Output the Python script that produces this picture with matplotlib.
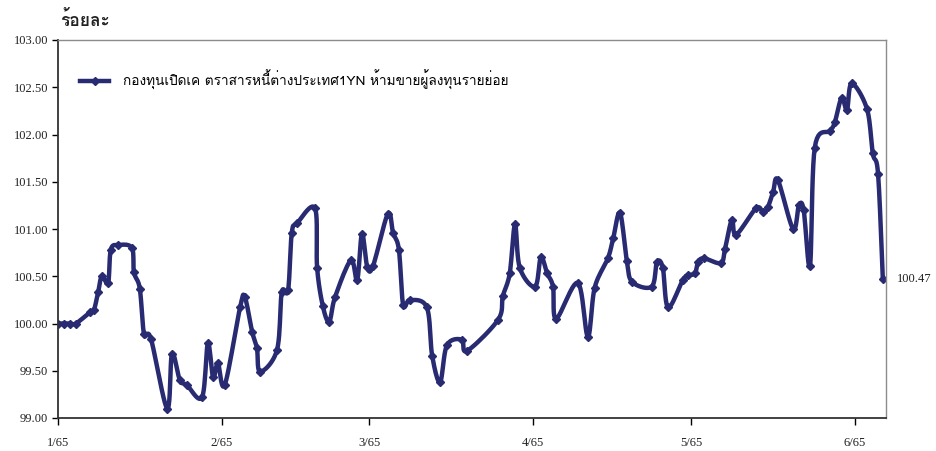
import numpy as np
import matplotlib
matplotlib.use("Agg")
import matplotlib.pyplot as plt
from matplotlib import font_manager
from matplotlib.ft2font import FT2Font

# days counted from 1 Jan 2565 (x position), fund index in percent
day = [0.0, 1.1, 2.3, 3.4, 6.1, 6.8, 7.6, 8.3, 9.5, 10.0,
       11.4, 14.0, 14.4, 15.5, 16.3, 17.6, 20.7, 21.6, 23.1, 24.4,
       27.3, 28.4, 29.4, 30.3, 31.6, 34.5, 35.4, 36.8, 37.7, 38.3,
       41.5, 42.4, 43.6, 44.3, 45.3, 48.7, 49.1, 50.2, 51.4, 52.5,
       55.5, 56.7, 57.6, 58.6, 59.7, 62.5, 63.5, 64.6, 65.4, 66.7,
       69.9, 70.9, 72.4, 73.7, 76.5, 77.5, 83.4, 84.3, 85.6, 86.6,
       87.5, 90.4, 91.5, 92.7, 93.8, 94.4, 98.5, 100.4, 101.7, 104.2,
       105.2, 106.5, 107.8, 108.8, 112.5, 113.5, 114.6, 115.6, 118.4, 119.4,
       120.7, 121.3, 122.4, 125.6, 126.4, 127.7, 128.5, 132.3, 133.6, 134.5,
       135.5, 136.4, 139.3, 140.4, 141.3, 142.5, 143.4, 146.3, 147.2, 148.5,
       149.5, 150.4, 153.3, 154.4, 155.4, 156.3]
value = [100.00, 100.00, 100.00, 100.00, 100.12, 100.14, 100.33, 100.50, 100.43, 100.78,
         100.83, 100.80, 100.54, 100.37, 99.89, 99.84, 99.10, 99.68, 99.40, 99.35,
         99.22, 99.79, 99.43, 99.58, 99.35, 100.17, 100.28, 99.91, 99.74, 99.49,
         99.72, 100.33, 100.35, 100.96, 101.06, 101.22, 100.59, 100.18, 100.02, 100.28,
         100.67, 100.46, 100.95, 100.60, 100.61, 101.16, 100.96, 100.78, 100.20, 100.25,
         100.17, 99.66, 99.38, 99.77, 99.83, 99.71, 100.04, 100.29, 100.53, 101.05,
         100.59, 100.39, 100.70, 100.53, 100.39, 100.05, 100.43, 99.86, 100.38, 100.69,
         100.90, 101.17, 100.66, 100.44, 100.39, 100.65, 100.59, 100.17, 100.46, 100.51,
         100.53, 100.65, 100.69, 100.64, 100.79, 101.10, 100.94, 101.22, 101.18, 101.23,
         101.39, 101.52, 101.00, 101.25, 101.20, 100.61, 101.86, 102.04, 102.13, 102.39,
         102.26, 102.54, 102.27, 101.80, 101.58, 100.47]

month_days = [0, 31, 59, 90, 120, 151]
month_labels = ["1/65", "2/65", "3/65", "4/65", "5/65", "6/65"]
series_name = "กองทุนเปิดเค ตราสารหนี้ต่างประเทศ1YN ห้ามขายผู้ลงทุนรายย่อย"
y_title = "ร้อยละ"


def find_thai_font():
    for f in font_manager.fontManager.ttflist:
        try:
            if 0x0E01 in FT2Font(f.fname).get_charmap():
                return f.name
        except Exception:
            pass
    return "DejaVu Sans"


thai = find_thai_font()
plt.rcParams['font.family'] = [thai, 'DejaVu Sans']


def smooth(x, y, n=12):
    # Bezier smoothing through the points, like a spreadsheet "smoothed line"
    x = np.asarray(x)
    y = np.asarray(y)
    px = np.concatenate([[x[0]], x, [x[-1]]])
    py = np.concatenate([[y[0]], y, [y[-1]]])
    t = np.linspace(0, 1, n)
    xs, ys = [], []
    for i in range(1, len(px) - 2):
        x0, x1, x2, x3 = px[i - 1:i + 3]
        y0, y1, y2, y3 = py[i - 1:i + 3]
        cx1, cy1 = x1 + (x2 - x0) / 6, y1 + (y2 - y0) / 6
        cx2, cy2 = x2 - (x3 - x1) / 6, y2 - (y3 - y1) / 6
        b0, b1, b2, b3 = (1 - t) ** 3, 3 * (1 - t) ** 2 * t, 3 * (1 - t) * t ** 2, t ** 3
        xs.append(b0 * x1 + b1 * cx1 + b2 * cx2 + b3 * x2)
        ys.append(b0 * y1 + b1 * cy1 + b2 * cy2 + b3 * y2)
    return np.concatenate(xs), np.concatenate(ys)


navy = "#282a72"
fig = plt.figure(figsize=(9.37, 4.51), dpi=100)
ax = fig.add_axes([58 / 937, 1 - 418 / 451, 828 / 937, 378 / 451])

sx, sy = smooth(day, value)
ax.plot(sx, sy, color=navy, linewidth=3.2, solid_capstyle='round')
ax.plot(day, value, linestyle='none', marker='D', markersize=4, color=navy)
# legend handle: line with a marker
ax.plot([], [], color=navy, linewidth=3.2, marker='D', markersize=4, label=series_name)

ax.set_xlim(0, 156.9)
ax.set_ylim(99, 103)
ax.set_yticks(np.arange(99, 103.01, 0.5))
ax.set_yticklabels([f"{v:.2f}" for v in np.arange(99, 103.01, 0.5)],
                   fontfamily="Liberation Serif", fontsize=9, color="#222222")
ax.set_xticks(month_days)
ax.set_xticklabels(month_labels, fontfamily="Liberation Serif", fontsize=9, color="#222222")
ax.tick_params(axis='y', direction='out', length=4, width=1, pad=3)
ax.tick_params(axis='x', direction='out', length=5, width=1, pad=9)

for s in ['left', 'bottom']:
    ax.spines[s].set_color("#333333")
    ax.spines[s].set_linewidth(1.3)
for s in ['top', 'right']:
    ax.spines[s].set_color("#8c8c8c")
    ax.spines[s].set_linewidth(1.0)

ax.text(day[-1] + 2.7, value[-1], f"{value[-1]:.2f}", fontfamily="Liberation Serif",
        fontsize=9, color="#222222", va='center', ha='left', clip_on=False)

fig.text(60 / 937, 1 - 19 / 451, y_title, fontsize=12.5, fontweight='bold',
         va='center', ha='left', color="#222222")

ax.legend(loc='center left', bbox_to_anchor=(0.026, 0.894), frameon=False,
          fontsize=9.8, handlelength=2.2, handletextpad=1.0, borderaxespad=0,
          borderpad=0)

fig.savefig("out.png", dpi=100)
